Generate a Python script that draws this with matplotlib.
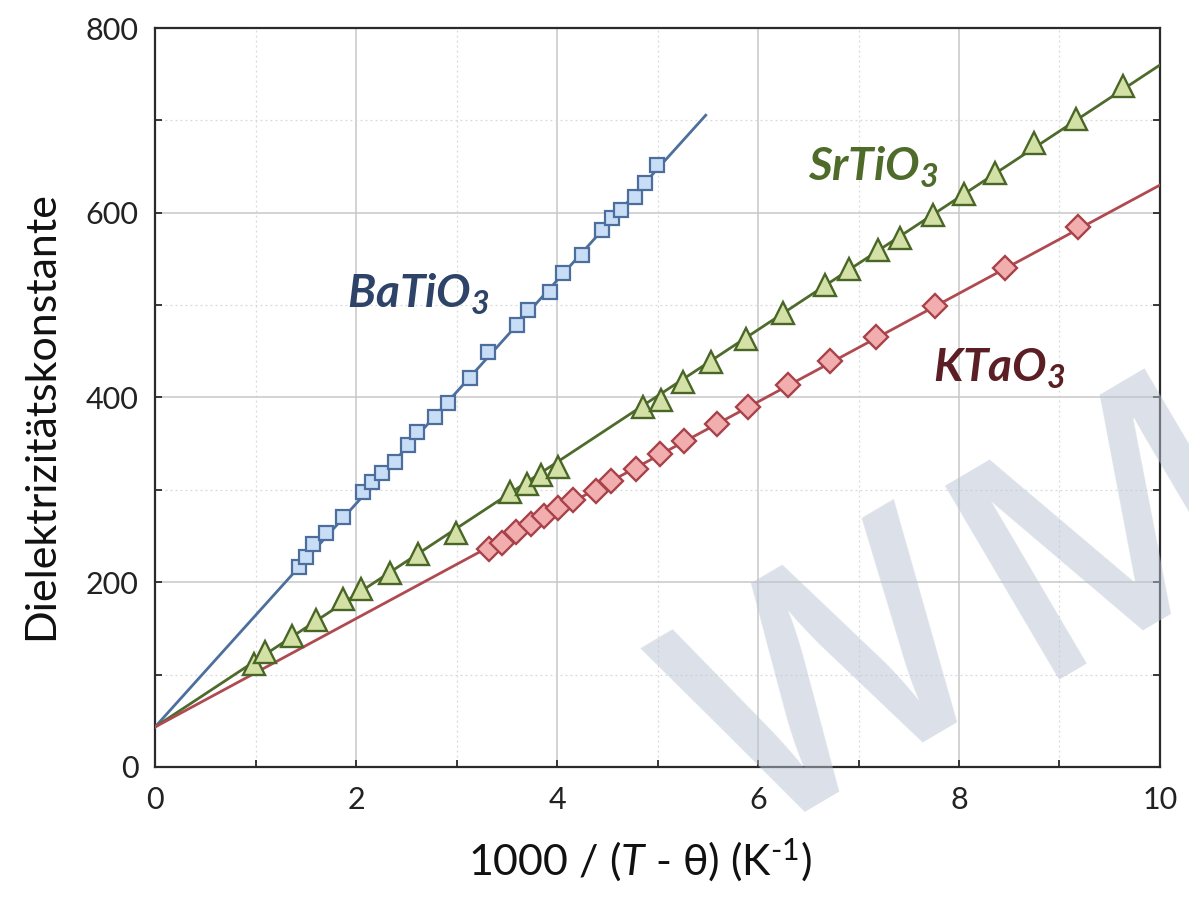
import matplotlib
matplotlib.use("Agg")
import matplotlib.pyplot as plt
from matplotlib.ticker import MultipleLocator

plt.rcParams['font.family'] = ['Lato', 'DejaVu Sans']
plt.rcParams['mathtext.fontset'] = 'custom'
plt.rcParams['mathtext.rm'] = 'Lato'
plt.rcParams['mathtext.it'] = 'Lato:italic'
plt.rcParams['mathtext.bf'] = 'Lato:bold'
plt.rcParams['mathtext.bfit'] = 'Lato:bold:italic'

# BaTiO3 (squares)
ba_x = [1.43, 1.50, 1.57, 1.70, 1.87, 2.07, 2.16, 2.26, 2.39, 2.52, 2.61, 2.79, 2.92,
        3.13, 3.31, 3.60, 3.71, 3.93, 4.06, 4.25, 4.45, 4.55, 4.64, 4.78, 4.88, 4.99]
ba_y = [217, 227, 241, 253, 271, 298, 308, 318, 330, 349, 363, 379, 394,
        421, 449, 479, 495, 514, 535, 554, 581, 594, 603, 617, 632, 652]
ba_fit_x = [0, 5.48]
ba_fit_y = [43.3, 705.6]

# SrTiO3 (triangles)
sr_x = [0.98, 1.09, 1.36, 1.60, 1.87, 2.05, 2.34, 2.62, 2.99, 3.53, 3.70, 3.84, 4.01,
        4.86, 5.03, 5.25, 5.53, 5.88, 6.25, 6.67, 6.91, 7.19, 7.41, 7.74, 8.05, 8.36,
        8.75, 9.16, 9.63]
sr_y = [112, 124, 142, 159, 182, 193, 210, 231, 253, 298, 306, 316, 325,
        390, 397, 417, 438, 463, 492, 522, 539, 560, 573, 598, 620, 643,
        675, 702, 737]
sr_fit_x = [0, 10]
sr_fit_y = [43.3, 760]

# KTaO3 (diamonds)
kt_x = [3.32, 3.45, 3.59, 3.74, 3.87, 4.01, 4.16, 4.39, 4.54, 4.79, 5.02, 5.26,
        5.59, 5.90, 6.30, 6.72, 7.17, 7.76, 8.46, 9.18]
kt_y = [236, 243, 254, 263, 272, 280, 289, 299, 310, 323, 339, 353,
        371, 390, 414, 440, 466, 499, 540, 585]
kt_fit_x = [0, 10]
kt_fit_y = [43.3, 630]

fig = plt.figure(figsize=(11.89, 8.98), dpi=100)
ax = fig.add_axes([0.1304, 0.1459, 0.8452, 0.8229])

ax.plot(ba_fit_x, ba_fit_y, color='#4C6F9D', lw=2.0, zorder=3)
ax.plot(sr_fit_x, sr_fit_y, color='#4E6B2C', lw=2.0, zorder=3)
ax.plot(kt_fit_x, kt_fit_y, color='#B04A51', lw=2.0, zorder=3)

ax.plot(ba_x, ba_y, ls='none', marker='s', ms=9.5, mfc='#C8DDF6', mec='#4B6E9C', mew=1.6, zorder=4)
ax.plot(sr_x, sr_y, ls='none', marker='^', ms=16.5, mfc='#D3E1A6', mec='#4A6627', mew=1.7, zorder=4)
ax.plot(kt_x, kt_y, ls='none', marker='D', ms=12, mfc='#F2AEAE', mec='#A8424A', mew=1.7, zorder=4)

ax.text(1.91, 497, r'$\mathbfit{BaTiO}_{\mathbfit{3}}$', color='#2D4468', fontsize=33, va='baseline')
ax.text(6.50, 635, r'$\mathbfit{SrTiO}_{\mathbfit{3}}$', color='#4F6B2A', fontsize=33, va='baseline')
ax.text(7.74, 417, r'$\mathbfit{KTaO}_{\mathbfit{3}}$', color='#5A1E24', fontsize=33, va='baseline')

ax.set_xlim(0, 10)
ax.set_ylim(0, 800)
ax.xaxis.set_major_locator(MultipleLocator(2))
ax.xaxis.set_minor_locator(MultipleLocator(1))
ax.yaxis.set_major_locator(MultipleLocator(200))
ax.yaxis.set_minor_locator(MultipleLocator(100))

ax.set_axisbelow(True)
ax.grid(which='major', color='#C8C8C8', lw=1.1)
ax.grid(which='minor', color='#D8D8D8', lw=0.9, ls=(0, (1.5, 2.5)))

for s in ax.spines.values():
    s.set_linewidth(1.6)
    s.set_color('#2A2A2A')
ax.tick_params(which='both', direction='in', length=5, width=1.3, color='#2A2A2A',
               top=False, right=True, labelsize=22, labelcolor='#222222')
ax.tick_params(axis='x', pad=14)
ax.tick_params(axis='y', pad=12)

ax.set_ylabel('Dielektrizitätskonstante', fontsize=31, color='#111111')
ax.yaxis.set_label_coords(-0.094, 0.476)
ax.set_xlabel(r'1000 / ($\mathit{T}$ - θ) (K$^{\text{-1}}$)', fontsize=31, color='#111111')
ax.xaxis.set_label_coords(0.4826, -0.094)

# watermark, two letters placed separately
wm = dict(rotation=30.5, rotation_mode='anchor', ha='left', va='baseline',
          fontsize=227, fontweight='semibold', family=['Open Sans', 'DejaVu Sans'],
          color='#B9C4D4', alpha=0.5, zorder=10)
fig.text(0.633, 0.0624, 'W', **wm)
fig.text(0.866, 0.243, 'M', **wm)

fig.savefig('out.png', dpi=100)
